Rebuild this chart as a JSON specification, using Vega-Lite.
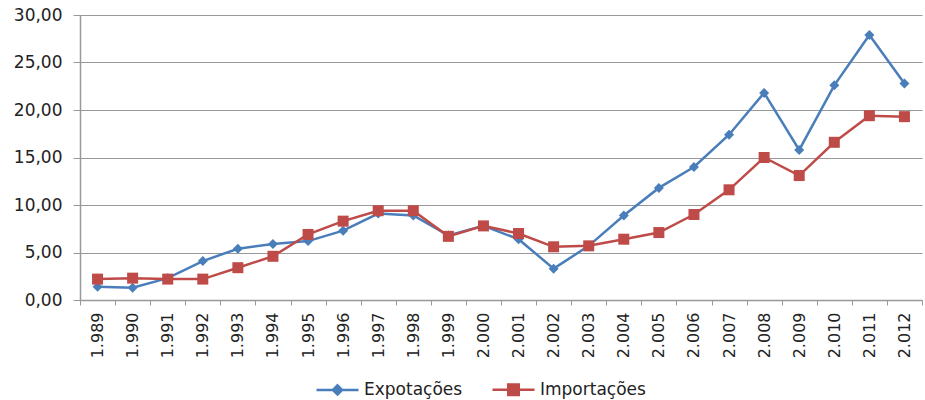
{
  "$schema": "https://vega.github.io/schema/vega-lite/v6.json",
  "width": 842,
  "height": 285,
  "autosize": {"type": "none"},
  "padding": {"left": 80, "top": 15, "right": 3, "bottom": 100},
  "background": "white",
  "config": {
    "locale": {"number": {"decimal": ",", "thousands": ".", "grouping": [3], "currency": ["", ""]}},
    "view": {"stroke": null},
    "font": "DejaVu Sans"
  },
  "data": {
    "values": [
      {"ano": "1.989", "serie": "Expotações", "valor": 1.4},
      {"ano": "1.990", "serie": "Expotações", "valor": 1.3},
      {"ano": "1.991", "serie": "Expotações", "valor": 2.3},
      {"ano": "1.992", "serie": "Expotações", "valor": 4.1},
      {"ano": "1.993", "serie": "Expotações", "valor": 5.4},
      {"ano": "1.994", "serie": "Expotações", "valor": 5.9},
      {"ano": "1.995", "serie": "Expotações", "valor": 6.2},
      {"ano": "1.996", "serie": "Expotações", "valor": 7.3},
      {"ano": "1.997", "serie": "Expotações", "valor": 9.1},
      {"ano": "1.998", "serie": "Expotações", "valor": 8.9},
      {"ano": "1.999", "serie": "Expotações", "valor": 6.8},
      {"ano": "2.000", "serie": "Expotações", "valor": 7.8},
      {"ano": "2.001", "serie": "Expotações", "valor": 6.4},
      {"ano": "2.002", "serie": "Expotações", "valor": 3.3},
      {"ano": "2.003", "serie": "Expotações", "valor": 5.7},
      {"ano": "2.004", "serie": "Expotações", "valor": 8.9},
      {"ano": "2.005", "serie": "Expotações", "valor": 11.8},
      {"ano": "2.006", "serie": "Expotações", "valor": 14.0},
      {"ano": "2.007", "serie": "Expotações", "valor": 17.4},
      {"ano": "2.008", "serie": "Expotações", "valor": 21.8},
      {"ano": "2.009", "serie": "Expotações", "valor": 15.8},
      {"ano": "2.010", "serie": "Expotações", "valor": 22.6},
      {"ano": "2.011", "serie": "Expotações", "valor": 27.9},
      {"ano": "2.012", "serie": "Expotações", "valor": 22.8},
      {"ano": "1.989", "serie": "Importações", "valor": 2.2},
      {"ano": "1.990", "serie": "Importações", "valor": 2.3},
      {"ano": "1.991", "serie": "Importações", "valor": 2.2},
      {"ano": "1.992", "serie": "Importações", "valor": 2.2},
      {"ano": "1.993", "serie": "Importações", "valor": 3.4},
      {"ano": "1.994", "serie": "Importações", "valor": 4.6},
      {"ano": "1.995", "serie": "Importações", "valor": 6.9},
      {"ano": "1.996", "serie": "Importações", "valor": 8.3},
      {"ano": "1.997", "serie": "Importações", "valor": 9.4},
      {"ano": "1.998", "serie": "Importações", "valor": 9.4},
      {"ano": "1.999", "serie": "Importações", "valor": 6.7},
      {"ano": "2.000", "serie": "Importações", "valor": 7.8},
      {"ano": "2.001", "serie": "Importações", "valor": 7.0},
      {"ano": "2.002", "serie": "Importações", "valor": 5.6},
      {"ano": "2.003", "serie": "Importações", "valor": 5.7},
      {"ano": "2.004", "serie": "Importações", "valor": 6.4},
      {"ano": "2.005", "serie": "Importações", "valor": 7.1},
      {"ano": "2.006", "serie": "Importações", "valor": 9.0},
      {"ano": "2.007", "serie": "Importações", "valor": 11.6},
      {"ano": "2.008", "serie": "Importações", "valor": 15.0},
      {"ano": "2.009", "serie": "Importações", "valor": 13.1},
      {"ano": "2.010", "serie": "Importações", "valor": 16.6},
      {"ano": "2.011", "serie": "Importações", "valor": 19.4},
      {"ano": "2.012", "serie": "Importações", "valor": 19.3}
    ]
  },
  "encoding": {
    "x": {
      "field": "ano",
      "type": "ordinal",
      "sort": null,
      "scale": {"type": "band", "paddingInner": 0, "paddingOuter": 0},
      "axis": {
        "title": null,
        "labelAngle": 270,
        "labelFont": "DejaVu Sans",
        "labelFontSize": 16,
        "labelColor": "#222222",
        "labelPadding": 7,
        "tickBand": "extent",
        "tickSize": 5,
        "tickColor": "#999999",
        "domainColor": "#999999",
        "domainWidth": 1.5,
        "grid": false
      }
    },
    "y": {
      "field": "valor",
      "type": "quantitative",
      "scale": {"domain": [0, 30], "nice": false},
      "axis": {
        "title": null,
        "values": [0, 5, 10, 15, 20, 25, 30],
        "format": ".2f",
        "labelFont": "DejaVu Sans",
        "labelFontSize": 17,
        "labelColor": "#222222",
        "labelPadding": 11,
        "tickSize": 7,
        "tickColor": "#999999",
        "domainColor": "#999999",
        "domainWidth": 1.5,
        "grid": true,
        "gridColor": "#999999",
        "gridWidth": 1
      }
    }
  },
  "layer": [
    {
      "mark": {"type": "line", "strokeWidth": 2.5},
      "encoding": {
        "color": {
          "field": "serie",
          "type": "nominal",
          "scale": {"domain": ["Expotações", "Importações"], "range": ["#4A7EBB", "#BE4B48"]},
          "legend": {
            "title": null,
            "orient": "none",
            "legendX": 235,
            "legendY": 352,
            "direction": "horizontal",
            "labelFontSize": 17,
            "labelColor": "#222222",
            "labelOffset": 4,
            "columnPadding": 24,
            "symbolType": "M-1,0H1M-0.24,-0.24H0.24V0.24H-0.24Z",
            "symbolSize": 1764,
            "symbolStrokeWidth": 2.5,
            "encode": {
              "symbols": {
                "update": {
                  "fill": {"signal": "datum.value === 'Expotações' ? '#4A7EBB' : '#BE4B48'"},
                  "shape": {"signal": "datum.value === 'Expotações' ? 'M-1,0H1M0,-0.22L0.22,0L0,0.22L-0.22,0Z' : 'M-1,0H1M-0.25,-0.25H0.25V0.25H-0.25Z'"}
                }
              }
            }
          }
        }
      }
    },
    {
      "transform": [{"filter": {"field": "serie", "equal": "Expotações"}}],
      "mark": {"type": "point", "shape": "diamond", "filled": true, "size": 100, "opacity": 1, "color": "#4A7EBB"},
      "encoding": {}
    },
    {
      "transform": [{"filter": {"field": "serie", "equal": "Importações"}}],
      "mark": {"type": "point", "shape": "square", "filled": true, "size": 121, "opacity": 1, "color": "#BE4B48"},
      "encoding": {}
    }
  ]
}
